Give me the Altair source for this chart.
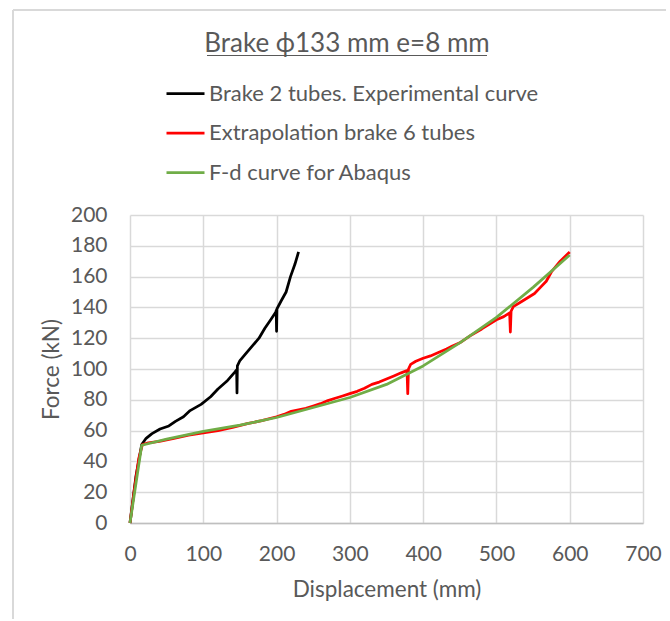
import altair as alt
import pandas as pd

# ---- data ----
series_names = ["Brake 2 tubes. Experimental curve",
                "Extrapolation brake 6 tubes",
                "F-d curve for Abaqus"]
series_colors = ["#000000", "#FF0000", "#70AD47"]

black_x = [0, 8, 16, 22, 30, 41, 53, 62, 73, 82, 97, 110, 120, 132, 143, 145.5,
           146, 146.5, 150, 158, 167, 176, 184, 192, 199, 199.5, 200, 200.5, 206, 213, 219, 225, 230]
black_y = [0, 30, 51, 55, 58, 61, 63, 66, 69, 73, 77, 82, 87, 92, 98, 99.5,
           84.5, 102, 105.5, 110, 115, 120, 126.5, 132, 137, 138, 124.5, 139, 144, 150, 160, 168, 176]

red_x = [0, 6, 12, 17, 25, 40, 60, 80, 100, 120, 140, 160, 180, 200, 210, 220, 230, 240,
         250, 260, 270, 280, 290, 300, 310, 320, 330, 340, 350, 360, 370, 378, 379, 380,
         383, 390, 400, 410, 420, 432, 440, 450, 464, 480, 500, 510, 518, 519, 520, 523,
         535, 552, 560, 568, 575, 587, 600]
red_y = [0, 22, 42, 51, 52, 53, 55, 57, 58.5, 60, 62, 64.5, 66.5, 69, 70.5, 72.5, 73.5, 74.5,
         76, 77.5, 79.5, 81, 82.5, 84, 85.5, 87.5, 90, 91.5, 93.5, 95.5, 97.5, 99, 84, 100,
         103, 105, 107, 108.5, 110.5, 113, 115, 117, 121.5, 126, 132, 134, 136.5, 124, 137.5, 140.5,
         144, 149, 153, 157, 163, 170, 176]

green_x = [0, 16, 50, 100, 150, 200, 250, 300, 350, 400, 450, 500, 550, 600]
green_y = [0, 50.5, 54.5, 59.5, 63.5, 68.5, 75, 81.5, 90, 102, 117, 133.5, 153, 174]

x_ticks = [0, 100, 200, 300, 400, 500, 600, 700]
y_ticks = [0, 20, 40, 60, 80, 100, 120, 140, 160, 180, 200]

title_text = "Brake \u03d5133 mm e=8 mm"

# ---- build table ----
frames = []
for name, xs, ys in zip(series_names, [black_x, red_x, green_x], [black_y, red_y, green_y]):
    frames.append(pd.DataFrame({"series": name, "x": xs, "y": ys, "idx": range(len(xs))}))
df = pd.concat(frames, ignore_index=True)

FONT = "Lato"
GRAY = "#595959"

lines = alt.Chart(df).mark_line(strokeWidth=2.75, strokeJoin="round").encode(
    x=alt.X("x:Q", scale=alt.Scale(domain=[0, 700], nice=False),
            axis=alt.Axis(values=x_ticks, title="Displacement (mm)")),
    y=alt.Y("y:Q", scale=alt.Scale(domain=[0, 200], nice=False),
            axis=alt.Axis(values=y_ticks, title="Force (kN)")),
    color=alt.Color("series:N",
                    scale=alt.Scale(domain=series_names, range=series_colors),
                    sort=series_names,
                    legend=alt.Legend(orient="none", legendX=35, legendY=-142, title=None,
                                      symbolType="stroke", symbolSize=1444,
                                      symbolStrokeWidth=2.75, labelFont=FONT,
                                      labelFontSize=22, labelColor=GRAY, labelOffset=3,
                                      rowPadding=7.5, labelLimit=0, padding=0)),
    order="idx:Q",
)

one = alt.Data(values=[{"a": 1}])
frame_v = alt.Chart(one).mark_rule(color="#D9D9D9", strokeWidth=2).encode(
    x=alt.value(-117), y=alt.value(-205), y2=alt.value(404))
frame_h = alt.Chart(one).mark_rule(color="#D9D9D9", strokeWidth=2).encode(
    x=alt.value(-117), x2=alt.value(536), y=alt.value(-205))
title = alt.Chart(one).mark_text(font=FONT, fontSize=26, color=GRAY, align="center",
                                 baseline="alphabetic").encode(
    x=alt.value(217), y=alt.value(-163), text=alt.value(title_text))
underline = alt.Chart(one).mark_rule(color=GRAY, strokeWidth=1).encode(
    x=alt.value(77), x2=alt.value(357), y=alt.value(-159.5))

chart = alt.layer(frame_v, frame_h, title, underline, lines).properties(
    width=513, height=308,
    padding={"left": 12, "top": 9, "right": 0, "bottom": 0},
).configure_view(stroke=None).configure_axis(
    labelFont=FONT, labelFontSize=21, labelColor=GRAY, labelFlush=False,
    titleFont=FONT, titleFontSize=22.5, titleColor=GRAY, titleFontWeight="normal",
    gridColor="#D9D9D9", gridWidth=1.5, ticks=False, domain=False,
).configure_axisX(
    domain=True, domainColor="#BFBFBF", domainWidth=1.5, labelPadding=20, titlePadding=14,
).configure_axisY(
    labelPadding=23, titlePadding=7,
)

chart.save("out.html", embed_options={"renderer": "svg", "actions": False})
